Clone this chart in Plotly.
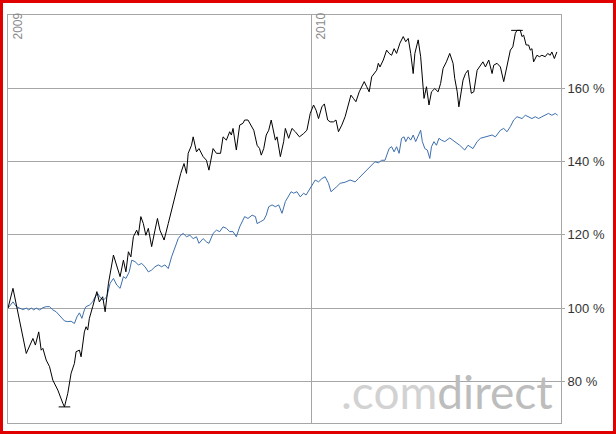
import pandas as pd
import plotly.graph_objects as go

# ---------------- data ----------------
BASE_DATE = "2009-01-01"

stock_days = [
    0, 6, 22, 30, 33, 37, 40, 42, 46, 50,
    54, 60, 66, 68, 72, 76, 80, 82, 86, 88,
    92, 94, 96, 98, 102, 107, 110, 114, 117, 121,
    127, 131, 135, 139, 142, 145, 148, 151, 155, 157,
    160, 163, 166, 169, 173, 177, 180, 183, 188, 193,
    199, 204, 208, 212, 215, 217, 221, 223, 227, 230,
    235, 239, 242, 247, 251, 256, 259, 263, 267, 269,
    271, 275, 279, 283, 285, 289, 294, 296, 300, 303,
    305, 308, 311, 314, 317, 320, 322, 324, 328, 332,
    334, 338, 342, 346, 351, 356, 360, 364, 368, 371,
    374, 378, 381, 385, 388, 392, 395, 398, 402, 406,
    410, 413, 416, 419, 423, 427, 429, 432, 435, 438,
    444, 446, 448, 452, 456, 459, 462, 465, 468, 472,
    476, 479, 482, 485, 488, 490, 494, 497, 501, 504,
    507, 510, 514, 518, 521, 524, 528, 532, 536, 538,
    541, 543, 546, 548, 551, 554, 558, 561, 565, 569,
    572, 575, 579, 583, 585, 589, 593, 597, 600, 603,
    605, 608, 611, 613, 617, 619, 621, 624, 627, 629,
    631, 633, 637, 640, 643, 647, 650, 653, 655, 658,
    661,
]
stock_values = [
    100, 105.4, 87.6, 91.7, 89.9, 93.5, 88.5, 89, 85.8, 84,
    80.3, 77.6, 74, 73.0, 76.7, 82.2, 84.9, 88.1, 88.5, 86.7,
    93.5, 94.9, 94, 97.2, 100.4, 104.5, 101.7, 103.1, 99, 106.8,
    114.5, 111.3, 108.6, 113.1, 109.9, 115.4, 114, 119.5, 121.3, 119.9,
    125, 123.1, 119.9, 121.8, 116.8, 121.3, 124.5, 121.3, 118.6, 123.1,
    128.6, 133.2, 136.8, 139.5, 136.8, 142.3, 144.5, 146.8, 142.7, 143.6,
    141.4, 140.4, 137.7, 143.6, 142.3, 142.3, 146.8, 145.9, 148.2, 147.3,
    149.1, 143.2, 150, 150.5, 151.4, 151.4, 149.6, 148.6, 144.5, 143.6,
    141.8, 143.6, 147.3, 148.6, 151.4, 147.7, 145.9, 146.8, 141.4, 145.5,
    149.1, 146.4, 149.1, 148.2, 146.8, 147.7, 148.6, 153.2, 155.5, 154.1,
    151.8, 155, 155.8, 151.4, 150.9, 150.9, 151.4, 148.2, 150, 152.3,
    155.9, 158.2, 157.3, 156.4, 159.1, 160.9, 161.9, 160.5, 159.1, 163.2,
    165, 166.9, 165.9, 167.8, 170.5, 169.6, 169.1, 170.9, 169.6, 172.4,
    174.2, 172.8, 173.7, 169.6, 164.1, 169.6, 173.3, 168.7, 157.3, 160.5,
    155.5, 159.1, 160, 159.1, 161.4, 165.5, 167.3, 169.6, 166.9, 162.8,
    159.1, 155, 159.6, 162.3, 164.1, 165, 158.7, 159.1, 165, 166.4,
    167.3, 165.9, 167.8, 164.1, 166.4, 166.9, 165.9, 161.9, 165, 168.7,
    170.5, 171.4, 175.1, 175.9, 175.9, 174.2, 174.6, 171.9, 171.9, 170.5,
    170.9, 167.3, 169.1, 168.7, 169.1, 168.7, 169.6, 169.1, 170, 168.2,
    170,
]

index_days = [
    0, 6, 10, 14, 18, 22, 25, 28, 31, 34,
    38, 42, 46, 50, 54, 58, 62, 65, 68, 72,
    76, 80, 83, 86, 89, 92, 94, 98, 100, 102,
    105, 108, 112, 115, 119, 123, 127, 131, 135, 139,
    142, 146, 149, 153, 157, 161, 165, 169, 173, 177,
    181, 185, 189, 193, 197, 201, 205, 208, 211, 215,
    219, 223, 227, 230, 235, 239, 242, 247, 251, 255,
    259, 263, 267, 271, 275, 279, 281, 285, 289, 294,
    298, 300, 304, 308, 311, 314, 318, 322, 326, 330,
    334, 338, 341, 344, 348, 352, 356, 359, 363, 366,
    370, 374, 378, 382, 386, 389, 392, 396, 400, 406,
    412, 418, 422, 428, 432, 436, 439, 442, 446, 450,
    454, 457, 459, 462, 465, 468, 471, 474, 477, 479,
    482, 485, 488, 491, 494, 497, 499, 502, 505, 508,
    510, 513, 516, 519, 522, 526, 532, 538, 544, 550,
    554, 560, 565, 569, 577, 583, 587, 593, 597, 601,
    605, 609, 613, 619, 623, 627, 631, 635, 639, 643,
    647, 651, 655, 659, 662,
]
index_values = [
    100, 101.7, 100.4, 100, 99.6, 100, 99.5, 100, 99.5, 100,
    99.5, 100.1, 100.4, 100.4, 99.5, 99, 98.1, 97.2, 96.5, 96.3,
    96.4, 95.8, 97.6, 98.7, 97.2, 99.5, 100.4, 100.8, 101.3, 101.7,
    103.1, 104, 102.6, 102.2, 103.1, 106.8, 108.1, 106.3, 105.4, 108.6,
    108.1, 109.9, 113.1, 112.7, 111.8, 112.2, 111.3, 109.9, 110.4, 111.3,
    111.8, 111.3, 111.8, 110.8, 114, 116.8, 119, 119.9, 120.4, 119.5,
    119.9, 119, 119.5, 117.7, 119, 118.1, 117.7, 120.4, 121.3, 120.9,
    122.2, 121.8, 120.9, 120.9, 119.5, 122.2, 123.1, 125, 124.5, 125.4,
    125, 123.1, 123.6, 124.1, 125.4, 127.7, 128.2, 127.7, 128.2, 125.9,
    129.1, 130.9, 131.8, 131.4, 131.8, 130.4, 131.4, 130.9, 132.3, 133.6,
    135, 134.5, 135.4, 135.9, 134.1, 131.8, 132.3, 133.2, 134.1, 134.4,
    135, 134.5, 135.4, 136.8, 137.7, 138.6, 139.5, 140, 139.7, 140.4,
    140.4, 142.3, 143.6, 144.1, 142.7, 144.1, 142.3, 146.4, 146.8, 145.5,
    146.8, 145.9, 147.3, 145.5, 147.3, 148.6, 145.5, 143.6, 143.2, 140.9,
    144.1, 145.5, 144.5, 146.4, 145.9, 145.5, 146.5, 145.5, 144.5, 143.2,
    144.5, 143.6, 145.5, 146.4, 146.8, 147.3, 146.8, 148.6, 149.1, 148.2,
    149.6, 151.4, 152.3, 151.8, 152.7, 152.3, 151.8, 152.3, 151.8, 152.3,
    152.7, 153.2, 152.7, 153.2, 152.7,
]

y_tick_values = [80, 100, 120, 140, 160]
y_tick_labels = ["80 %", "100 %", "120 %", "140 %", "160 %"]
year_labels = ["2009", "2010"]
year_dates = ["2009-01-01", "2010-01-01"]
x_range = ["2009-01-01", "2010-10-29"]
y_range = [68.6, 180.1]
watermark = (".com", "direct")

# ---------------- figure ----------------
base = pd.Timestamp(BASE_DATE)
stock_dates = base + pd.to_timedelta(stock_days, unit="D")
index_dates = base + pd.to_timedelta(index_days, unit="D")

W, H = 616, 434
ML, MR, MT, MB = 8, 55, 15, 11
pw, ph = W - ML - MR, H - MT - MB

fig = go.Figure()
fig.add_trace(go.Scatter(x=index_dates, y=index_values, mode="lines",
                         line=dict(color="#3d6fae", width=1), hoverinfo="skip"))
fig.add_trace(go.Scatter(x=stock_dates, y=stock_values, mode="lines",
                         line=dict(color="#000000", width=1), hoverinfo="skip"))

# min / max markers (short horizontal bars at extreme values)
imin = min(range(len(stock_values)), key=lambda i: stock_values[i])
imax = max(range(len(stock_values)), key=lambda i: stock_values[i])
for i in (imin, imax):
    d = stock_dates[i]
    fig.add_trace(go.Scatter(x=[d - pd.Timedelta(days=7), d + pd.Timedelta(days=7)],
                             y=[stock_values[i]] * 2, mode="lines",
                             line=dict(color="#000000", width=1), hoverinfo="skip"))

grid = "#a6a6a6"
fig.update_xaxes(range=x_range, type="date", tickvals=year_dates, showticklabels=False,
                 showgrid=True, gridcolor=grid, gridwidth=1, zeroline=False,
                 showline=True, linecolor=grid, linewidth=1, mirror=True, ticks="")
fig.update_yaxes(range=y_range, side="right", tickvals=y_tick_values, ticktext=y_tick_labels,
                 showgrid=True, gridcolor=grid, gridwidth=1, zeroline=False,
                 showline=True, linecolor=grid, linewidth=1, mirror=True,
                 ticks="outside", ticklen=3, tickcolor=grid,
                 tickfont=dict(family="Arial, Liberation Sans, sans-serif", size=13, color="#333333"))

annotations = []
for lab, d in zip(year_labels, year_dates):
    annotations.append(dict(x=d, xref="x", y=1, yref="paper", text=lab, showarrow=False,
                            textangle=-90, xanchor="left", yanchor="top", xshift=0, yshift=4,
                            font=dict(family="Arial, Liberation Sans, sans-serif", size=12, color="#8a8a8a")))
annotations.append(dict(
    x=1, xref="paper", y=0, yref="paper", xanchor="right", yanchor="bottom",
    xshift=-6, yshift=2, showarrow=False,
    text=f"<span style='color:#d2d2d2'>{watermark[0]}</span><span style='color:#bdbdbd'>{watermark[1]}</span>",
    font=dict(family="Lato, Open Sans, sans-serif", size=46, color="#c8c8c8")))

# red frame round the whole picture
def px_x(px):
    return (px - ML) / pw

def px_y(py):
    return (H - MB - py) / ph

shapes = [dict(type="rect", xref="paper", yref="paper",
               x0=px_x(1.5), x1=px_x(W - 1.5), y0=px_y(H - 1.5), y1=px_y(1.5),
               line=dict(color="#e00000", width=3), fillcolor="rgba(0,0,0,0)", layer="above")]

fig.update_layout(width=W, height=H, margin=dict(l=ML, r=MR, t=MT, b=MB, pad=0),
                  paper_bgcolor="#ffffff", plot_bgcolor="#ffffff", showlegend=False,
                  annotations=annotations, shapes=shapes)

fig.write_html("out.html", config={"displayModeBar": False},
               post_script="document.body.style.margin='0';document.body.style.padding='0';")
